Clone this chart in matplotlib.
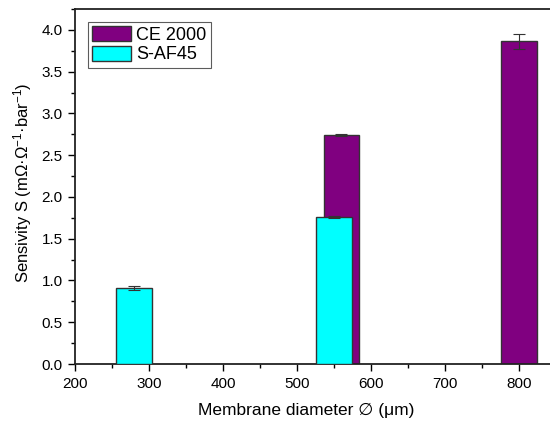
import matplotlib
matplotlib.use("Agg")
import matplotlib.pyplot as plt
from matplotlib.ticker import MultipleLocator

plt.rcParams['font.family'] = ['Liberation Sans', 'DejaVu Sans']
plt.rcParams['mathtext.fontset'] = 'custom'
plt.rcParams['mathtext.rm'] = 'Liberation Sans'
plt.rcParams['mathtext.it'] = 'Liberation Sans'

ce_x = [560, 800]
ce_y = [2.742, 3.861]
ce_err = [0.015, 0.085]
saf_x = [280, 550]
saf_y = [0.908, 1.759]
saf_err = [0.02, 0.012]
bar_width = 48

fig = plt.figure(figsize=(5.5, 4.24), dpi=100)
ax = fig.add_axes([0.1364, 0.1415, 0.8636, 0.8373])

ax.bar(ce_x, ce_y, width=bar_width, color='#800080', edgecolor='#333333', linewidth=1.0,
       yerr=ce_err, error_kw=dict(ecolor='#333333', elinewidth=0.8, capsize=4, capthick=0.8),
       label='CE 2000', zorder=2)
ax.bar(saf_x, saf_y, width=bar_width, color='#00FFFF', edgecolor='#333333', linewidth=1.0,
       yerr=saf_err, error_kw=dict(ecolor='#333333', elinewidth=0.8, capsize=4, capthick=0.8),
       label='S-AF45', zorder=3)

ax.set_xlim(200, 842)
ax.set_ylim(0, 4.25)
ax.xaxis.set_major_locator(MultipleLocator(100))
ax.xaxis.set_minor_locator(MultipleLocator(50))
ax.yaxis.set_major_locator(MultipleLocator(0.5))
ax.yaxis.set_minor_locator(MultipleLocator(0.25))
ax.yaxis.set_major_formatter(matplotlib.ticker.FormatStrFormatter('%.1f'))
ax.tick_params(which='major', direction='out', length=5, width=1.0, labelsize=11, pad=4)
ax.tick_params(which='minor', direction='out', length=3, width=1.0)
ax.spines['right'].set_visible(False)
for s in ['left', 'bottom', 'top']:
    ax.spines[s].set_linewidth(1.3)
    ax.spines[s].set_color('#222222')

ax.set_xlabel('Membrane diameter \u2205 (\u03bcm)', fontsize=12.5)
ax.xaxis.set_label_coords((306 - 75) / 475, -(410 - 364) / 355, transform=ax.transAxes)
ax.xaxis.label.set_verticalalignment('center')
ax.set_ylabel('Sensivity S (m\u03a9\u00b7\u03a9$^{-1}$\u00b7bar$^{-1}$)', fontsize=12)
ax.yaxis.set_label_coords(-(75 - 23) / 475, (364 - 183) / 355, transform=ax.transAxes)
ax.yaxis.label.set_verticalalignment('center')

leg = ax.legend(loc='upper left', fontsize=13, frameon=True, fancybox=False,
                edgecolor='#333333', borderpad=0.25, handlelength=2.15, handleheight=0.9,
                handletextpad=0.3, labelspacing=0.1, borderaxespad=0.7)
leg.get_frame().set_linewidth(0.8)

fig.savefig('out.png', dpi=100)
